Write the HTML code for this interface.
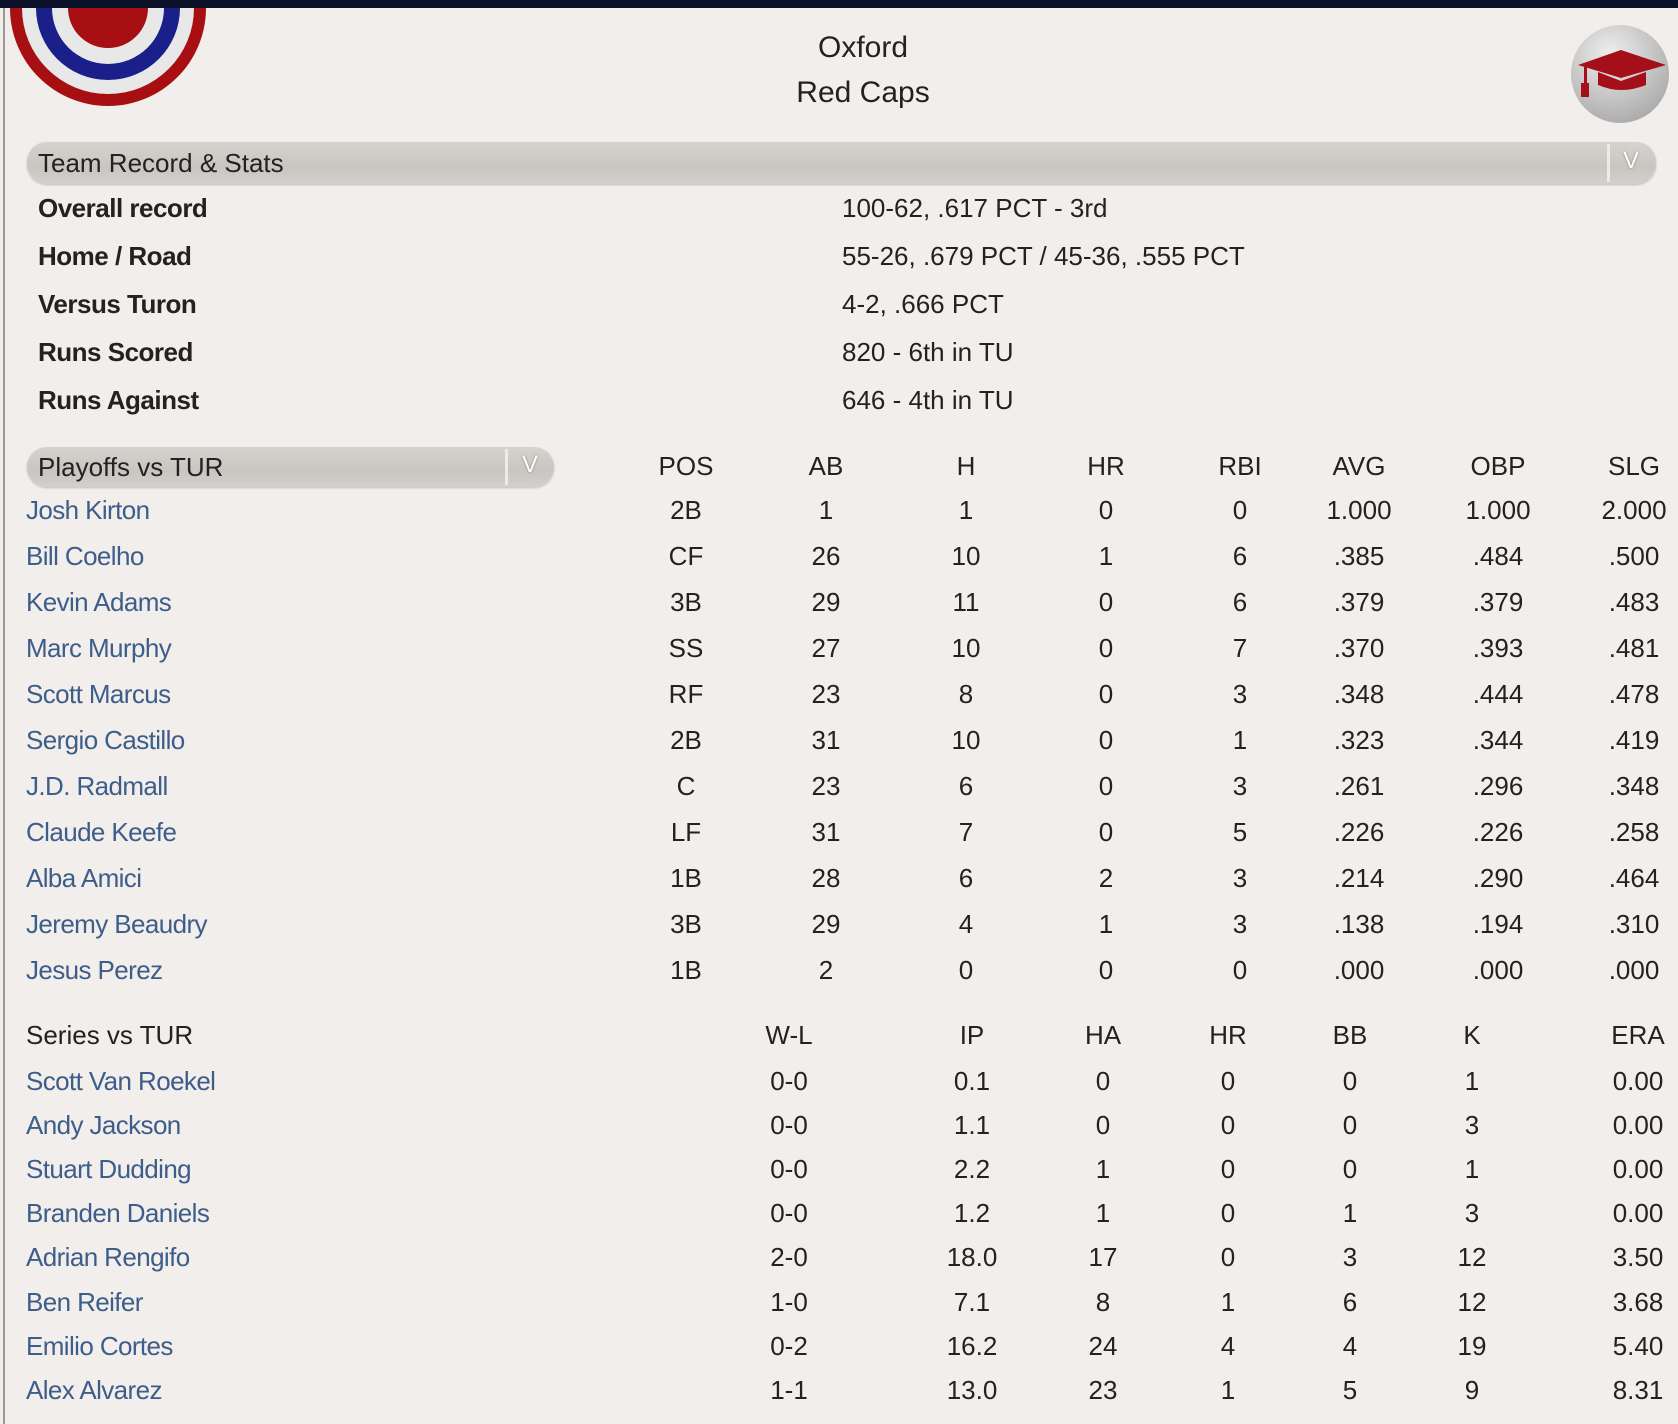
<!DOCTYPE html>
<html><head><meta charset="utf-8"><style>
html,body{margin:0;padding:0}
body{width:1678px;height:1424px;background:#f2eeeb;position:relative;overflow:hidden;font-family:"Liberation Sans",sans-serif;font-size:26px;color:#222}
.t{position:absolute;white-space:nowrap;line-height:30px;transform:translateY(-50%)}
.c{transform:translate(-50%,-50%);text-align:center}
.n{color:#3d5d8a;letter-spacing:-0.6px}
.b{font-weight:bold;letter-spacing:-0.5px}
.bar{position:absolute;border-radius:20px;background:linear-gradient(#d6d2ce,#c9c5c1 60%,#d3cfcb);box-shadow:0 1px 2px #bbb}
</style></head><body>
<div style="position:absolute;left:0;top:0;width:1678px;height:8px;background:#0b1128"></div>
<div style="position:absolute;left:3px;top:8px;width:2px;height:1416px;background:#9a9794"></div>
<svg style="position:absolute;left:8px;top:8px" width="200" height="100" viewBox="0 0 200 100">
<path d="M2,0 A98,98 0 0 0 198,0 Z" fill="#a80f12"/>
<path d="M14,0 A86,86 0 0 0 186,0 Z" fill="#e8e8e8"/>
<path d="M28,0 A72,72 0 0 0 172,0 Z" fill="#1a1f8a"/>
<path d="M44,0 A56,56 0 0 0 156,0 Z" fill="#e8e8e8"/>
<path d="M60,0 A40,40 0 0 0 140,0 Z" fill="#a80f12"/>
</svg>
<div class="t c" style="left:863px;top:48px;font-size:30px">Oxford</div>
<div class="t c" style="left:863px;top:93px;font-size:30px">Red Caps</div>
<div style="position:absolute;left:1571px;top:25px;width:98px;height:98px;border-radius:50%;background:radial-gradient(circle at 40% 30%,#eee,#bbb 60%,#999)"></div>
<svg style="position:absolute;left:1574px;top:45px" width="95" height="60" viewBox="0 0 95 60"><polygon points="4,20 47,5 92,20 47,33" fill="#a50f1a"/><path d="M24,27 L24,40 Q47,50 72,40 L72,27 L47,36 Z" fill="#a50f1a"/><rect x="10" y="22" width="3" height="20" fill="#a50f1a"/><rect x="7" y="38" width="8" height="14" fill="#a50f1a"/></svg>
<div class="bar" style="left:27px;top:142px;width:1629px;height:42px"></div>
<div style="position:absolute;left:1607px;top:144px;width:3px;height:38px;background:#eeeae6"></div>
<div class="t" style="left:38px;top:163px">Team Record &amp; Stats</div>
<div class="t c" style="left:1631px;top:161px;color:#fff;font-size:24px;text-shadow:0 0 2px #777">V</div>
<div class="t b" style="left:38px;top:208px">Overall record</div><div class="t" style="left:842px;top:208px">100-62, .617 PCT - 3rd</div>
<div class="t b" style="left:38px;top:256px">Home / Road</div><div class="t" style="left:842px;top:256px">55-26, .679 PCT / 45-36, .555 PCT</div>
<div class="t b" style="left:38px;top:304px">Versus Turon</div><div class="t" style="left:842px;top:304px">4-2, .666 PCT</div>
<div class="t b" style="left:38px;top:352px">Runs Scored</div><div class="t" style="left:842px;top:352px">820 - 6th in TU</div>
<div class="t b" style="left:38px;top:400px">Runs Against</div><div class="t" style="left:842px;top:400px">646 - 4th in TU</div>
<div class="bar" style="left:27px;top:447px;width:527px;height:40px"></div>
<div style="position:absolute;left:505px;top:449px;width:3px;height:36px;background:#eeeae6"></div>
<div class="t" style="left:38px;top:467px">Playoffs vs TUR</div>
<div class="t c" style="left:530px;top:465px;color:#fff;font-size:24px;text-shadow:0 0 2px #777">V</div>
<div id="bat"></div><div id="pit"></div>
<script>
function add(h){document.body.insertAdjacentHTML('beforeend',h)}
var bc=[686,826,966,1106,1240,1359,1498,1634];
var bh=['POS','AB','H','HR','RBI','AVG','OBP','SLG'];
bh.forEach((s,i)=>add('<div class="t c" style="left:'+bc[i]+'px;top:466px">'+s+'</div>'));
var bat=[["Josh Kirton","2B","1","1","0","0","1.000","1.000","2.000"],["Bill Coelho","CF","26","10","1","6",".385",".484",".500"],["Kevin Adams","3B","29","11","0","6",".379",".379",".483"],["Marc Murphy","SS","27","10","0","7",".370",".393",".481"],["Scott Marcus","RF","23","8","0","3",".348",".444",".478"],["Sergio Castillo","2B","31","10","0","1",".323",".344",".419"],["J.D. Radmall","C","23","6","0","3",".261",".296",".348"],["Claude Keefe","LF","31","7","0","5",".226",".226",".258"],["Alba Amici","1B","28","6","2","3",".214",".290",".464"],["Jeremy Beaudry","3B","29","4","1","3",".138",".194",".310"],["Jesus Perez","1B","2","0","0","0",".000",".000",".000"]];
bat.forEach((r,j)=>{var y=510+j*46;add('<div class="t n" style="left:26px;top:'+y+'px">'+r[0]+'</div>');for(var i=1;i<9;i++)add('<div class="t c" style="left:'+bc[i-1]+'px;top:'+y+'px">'+r[i]+'</div>')});
var pc=[789,972,1103,1228,1350,1472,1638];
var ph=['W-L','IP','HA','HR','BB','K','ERA'];
add('<div class="t" style="left:26px;top:1035px">Series vs TUR</div>');
ph.forEach((s,i)=>add('<div class="t c" style="left:'+pc[i]+'px;top:1035px">'+s+'</div>'));
var pit=[["Scott Van Roekel","0-0","0.1","0","0","0","1","0.00"],["Andy Jackson","0-0","1.1","0","0","0","3","0.00"],["Stuart Dudding","0-0","2.2","1","0","0","1","0.00"],["Branden Daniels","0-0","1.2","1","0","1","3","0.00"],["Adrian Rengifo","2-0","18.0","17","0","3","12","3.50"],["Ben Reifer","1-0","7.1","8","1","6","12","3.68"],["Emilio Cortes","0-2","16.2","24","4","4","19","5.40"],["Alex Alvarez","1-1","13.0","23","1","5","9","8.31"]];
pit.forEach((r,j)=>{var y=1081+j*44.1;add('<div class="t n" style="left:26px;top:'+y+'px">'+r[0]+'</div>');for(var i=1;i<8;i++)add('<div class="t c" style="left:'+pc[i-1]+'px;top:'+y+'px">'+r[i]+'</div>')});
</script>
</body></html>
